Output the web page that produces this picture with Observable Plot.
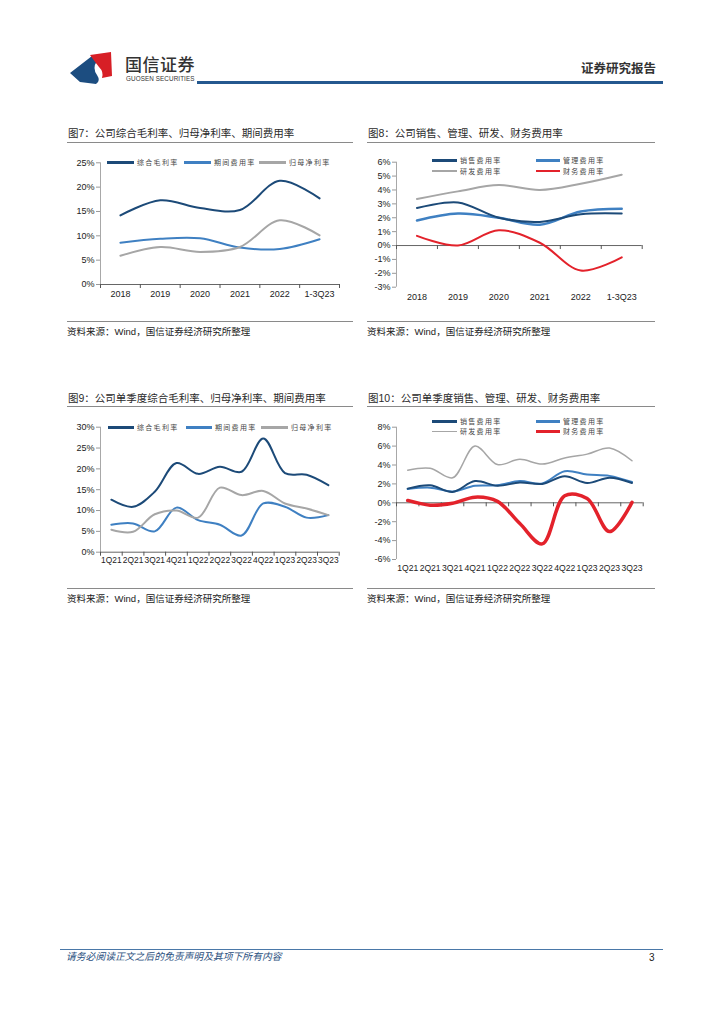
<!DOCTYPE html>
<html><head><meta charset="utf-8">
<script src="https://cdn.jsdelivr.net/npm/d3@7"></script>
<script src="https://cdn.jsdelivr.net/npm/@observablehq/plot@0.6"></script>
<style>
body{margin:0;background:#fff;width:724px;height:1024px;position:relative;overflow:hidden;font-family:"Liberation Sans",Arial,"Noto Sans CJK SC",sans-serif;}
.abs{position:absolute;white-space:nowrap;line-height:1;}
.title{font-family:"Liberation Sans","Noto Sans CJK SC",sans-serif;font-size:10.5px;font-weight:400;color:#2a2a2a;}
.src{font-family:"Liberation Sans","Noto Sans CJK SC",sans-serif;font-size:9.5px;color:#222;}
.hr{position:absolute;height:0;border-top:1.6px solid #8a8a8a;}
.leg{position:absolute;display:flex;align-items:center;font-family:"Noto Sans CJK SC",sans-serif;font-size:7px;letter-spacing:1.3px;color:#444;line-height:1;white-space:nowrap;}
.leg span.ln{display:inline-block;margin-right:3px;}
</style></head>
<body>
<div id="page"></div>
<script>
// ---------- data ----------
const years = ["2018","2019","2020","2021","2022","1-3Q23"];
const grossMargin7 = [14.2,17.3,15.7,15.3,21.3,17.7];
const expenseRate7 = [8.6,9.4,9.5,7.6,7.3,9.3];
const netMargin7 = [5.9,7.7,6.7,7.7,13.2,10.1];
const yTicks7 = [0,5,10,15,20,25];
const legend7 = ["综合毛利率","期间费用率","归母净利率"];

const sales8 = [2.7,3.1,2.0,1.7,2.25,2.3];
const admin8 = [1.8,2.3,2.0,1.5,2.45,2.65];
const rd8 = [3.35,3.9,4.35,4.0,4.45,5.1];
const fin8 = [0.7,0.0,1.1,0.2,-1.8,-0.85];
const yTicks8 = [-3,-2,-1,0,1,2,3,4,5,6];
const legend8 = ["销售费用率","管理费用率","研发费用率","财务费用率"];

const quarters = ["1Q21","2Q21","3Q21","4Q21","1Q22","2Q22","3Q22","4Q22","1Q23","2Q23","3Q23"];
const gross9 = [12.6,10.9,14.5,21.4,18.8,20.5,19.3,27.3,19.0,18.6,16.1];
const expense9 = [6.6,6.9,5.0,10.7,7.7,6.6,4.0,11.7,10.9,8.3,8.9];
const net9 = [5.4,4.9,9.1,10.0,8.3,15.5,13.7,14.7,11.7,10.5,8.9];
const yTicks9 = [0,5,10,15,20,25,30];

const sales10 = [1.5,1.85,1.15,2.3,1.8,2.15,2.0,2.8,2.1,2.65,2.1];
const admin10 = [1.45,1.6,1.2,1.8,1.85,2.3,2.05,3.35,3.0,2.85,2.2];
const rd10 = [3.45,3.65,2.65,6.0,4.05,4.6,4.1,4.75,5.15,5.8,4.45];
const fin10 = [0.25,-0.25,-0.05,0.6,0.15,-2.2,-4.35,0.75,0.45,-3.05,0.05];
const yTicks10 = [-6,-4,-2,0,2,4,6,8];

const titles = ["图7：公司综合毛利率、归母净利率、期间费用率","图8：公司销售、管理、研发、财务费用率","图9：公司单季度综合毛利率、归母净利率、期间费用率","图10：公司单季度销售、管理、研发、财务费用率"];
const sourceText = "资料来源：Wind，国信证券经济研究所整理";

// ---------- colors ----------
const NAVY="#1c4a78", BLUE="#3f80c2", GRAY="#a6a6a6", RED="#e3222b";

const page = document.getElementById("page");
function div(cls, style, text){const d=document.createElement("div");d.className=cls;Object.assign(d.style,style);if(text!=null)d.textContent=text;page.appendChild(d);return d;}

function drawChart(o){
  const n=o.cats.length;
  const idx=d3.range(n);
  const bounds=d3.range(n+1).map(i=>i-0.5);
  const rows=[];
  o.series.forEach(s=>s.values.forEach((v,i)=>rows.push({i,v,key:s.key})));
  const marks=[
    Plot.ruleX([-0.5],{stroke:"#a8a8a8",strokeWidth:1}),
    Plot.axisY({ticks:o.yTicks,tickFormat:d=>d+"%",tickSize:4,tickPadding:2,stroke:"#999",fill:"#222",label:null}),
    Plot.ruleY([o.axisAt],{stroke:"#666",strokeWidth:1}),
    Plot.ruleX(bounds,{x:d=>d,y1:()=>o.axisAt,y2:()=>o.axisAt,insetBottom:-4,stroke:"#555"}),
    Plot.axisX({ticks:idx,tickFormat:i=>o.cats[i],tickSize:0,tickPadding:o.labelPad,anchor:"bottom",fill:"#222",fontSize:o.xFont,label:null})
  ];
  o.series.forEach(s=>{
    marks.push(Plot.line(rows.filter(r=>r.key===s.key),{x:"i",y:"v",stroke:s.color,strokeWidth:s.width,curve:"catmull-rom"}));
  });
  const svg=Plot.plot({
    width:o.width,height:o.height,
    marginTop:o.mt,marginRight:o.mr,marginBottom:o.mb,marginLeft:o.ml,
    x:{domain:[-0.5,n-0.5],label:null},
    y:{domain:o.yDomain,label:null},
    style:{fontFamily:"Liberation Sans, Arial, sans-serif",fontSize:"9px",color:"#222",background:"transparent",overflow:"visible"},
    marks
  });
  svg.style.position="absolute";svg.style.left=o.left+"px";svg.style.top=o.top+"px";
  page.appendChild(svg);
}

function legend(x,y,label,color,w,len){
  const d=div("leg",{left:x+"px",top:(y-4)+"px",height:"8px"});
  const ln=document.createElement("span");ln.className="ln";
  ln.style.width=len+"px";ln.style.height=w+"px";ln.style.background=color;
  d.appendChild(ln);
  const t=document.createElement("span");t.textContent=label;d.appendChild(t);
}

// ---------- header ----------
const hdr=document.createElementNS("http://www.w3.org/2000/svg","svg");
hdr.setAttribute("width","130");hdr.setAttribute("height","40");
hdr.style.position="absolute";hdr.style.left="66px";hdr.style.top="48px";
hdr.innerHTML='<path d="M4 25 L26 8 L31 13 Q26 20 31 27 Q35 33 30 36 L14 34 Z" fill="#1c4d80"/>'+
 '<path d="M24 7 L45 4 L46 28 L36 30 Q38 24 33 19 Q29 14 24 7 Z" fill="#d71f26"/>';
page.appendChild(hdr);
div("abs",{left:"125px",top:"55px",fontFamily:"'Noto Sans CJK SC'",fontSize:"17px",fontWeight:"500",color:"#333",letterSpacing:"0.5px"},"国信证券");
div("abs",{left:"126px",top:"76px",fontFamily:"'Liberation Sans'",fontSize:"6.3px",color:"#333",letterSpacing:"0.1px"},"GUOSEN SECURITIES");
div("abs",{left:"197px",top:"81px",width:"466px",height:"2.5px",background:"#24588f"});
div("abs",{left:"580px",top:"62px",width:"76px",textAlign:"right",fontFamily:"'Noto Sans CJK SC'",fontSize:"12.5px",fontWeight:"700",color:"#333"},"证券研究报告");

// ---------- panel text ----------
div("abs title",{left:"68px",top:"127.5px"},titles[0]);
div("abs title",{left:"368px",top:"127.5px"},titles[1]);
div("abs title",{left:"68px",top:"392.5px"},titles[2]);
div("abs title",{left:"368px",top:"392.5px"},titles[3]);
div("hr",{left:"67px",top:"142px",width:"286px"});
div("hr",{left:"367px",top:"142px",width:"288px"});
div("hr",{left:"67px",top:"406px",width:"286px"});
div("hr",{left:"367px",top:"406px",width:"288px"});
div("hr",{left:"67px",top:"321px",width:"286px"});
div("hr",{left:"367px",top:"321px",width:"288px"});
div("hr",{left:"67px",top:"588px",width:"286px"});
div("hr",{left:"367px",top:"588px",width:"288px"});
div("abs src",{left:"67px",top:"327px"},sourceText);
div("abs src",{left:"367px",top:"327px"},sourceText);
div("abs src",{left:"67px",top:"594px"},sourceText);
div("abs src",{left:"367px",top:"594px"},sourceText);

// ---------- charts ----------
drawChart({left:60,top:150,width:290,height:150,ml:40,mr:11,mt:12.3,mb:16,
  cats:years,yDomain:[0,25],yTicks:yTicks7,axisAt:0,labelPad:6,xFont:9,
  series:[{key:"g",values:grossMargin7,color:NAVY,width:2},
          {key:"e",values:expenseRate7,color:BLUE,width:2},
          {key:"n",values:netMargin7,color:GRAY,width:2}]});
legend(107,162.3,legend7[0],NAVY,2.5,27);
legend(184,162.3,legend7[1],BLUE,2.5,27);
legend(259,162.3,legend7[2],GRAY,2.5,27);

drawChart({left:360,top:150,width:300,height:155,ml:36,mr:18.3,mt:11.7,mb:18.3,
  cats:years,yDomain:[-3,6],yTicks:yTicks8,axisAt:0,labelPad:6,xFont:9,
  series:[{key:"r",values:rd8,color:GRAY,width:2},
          {key:"a",values:admin8,color:BLUE,width:2.5},
          {key:"s",values:sales8,color:NAVY,width:2},
          {key:"f",values:fin8,color:RED,width:2}]});
legend(432,160.7,legend8[0],NAVY,2.5,25);
legend(536,160.7,legend8[1],BLUE,2.5,24);
legend(432,171,legend8[2],GRAY,2,25);
legend(536,171,legend8[3],RED,2,24);

drawChart({left:60,top:415,width:290,height:160,ml:40,mr:11.3,mt:11.7,mb:23.3,
  cats:quarters,yDomain:[0,30],yTicks:yTicks9,axisAt:0,labelPad:5,xFont:8.4,
  series:[{key:"g",values:gross9,color:NAVY,width:2},
          {key:"e",values:expense9,color:BLUE,width:2},
          {key:"n",values:net9,color:GRAY,width:2}]});
legend(108,427.3,legend7[0],NAVY,2.5,26);
legend(186,427.3,legend7[1],BLUE,2.5,26);
legend(261,427.3,legend7[2],GRAY,2.5,27);

drawChart({left:360,top:415,width:300,height:160,ml:36,mr:17.3,mt:11.7,mb:16,
  cats:quarters,yDomain:[-6,8],yTicks:yTicks10,axisAt:0,labelPad:5,xFont:8.6,
  series:[{key:"r",values:rd10,color:GRAY,width:1.5},
          {key:"a",values:admin10,color:BLUE,width:2},
          {key:"s",values:sales10,color:NAVY,width:2},
          {key:"f",values:fin10,color:RED,width:3.5}]});
legend(432,421.7,legend8[0],NAVY,2.5,25);
legend(536,421.7,legend8[1],BLUE,2.5,24);
legend(432,431.7,legend8[2],GRAY,1.5,25);
legend(536,431.7,legend8[3],RED,3.5,24);

// ---------- footer ----------
div("abs",{left:"60px",top:"948.5px",width:"603px",height:"1px",background:"#4a78a8"});
div("abs",{left:"66px",top:"952px",fontFamily:"'Noto Sans CJK SC'",fontSize:"9.8px",fontStyle:"italic",color:"#2a4f7e"},"请务必阅读正文之后的免责声明及其项下所有内容");
div("abs",{left:"649px",top:"953px",fontFamily:"'Liberation Sans'",fontSize:"10px",color:"#222"},"3");
</script>
</body></html>
